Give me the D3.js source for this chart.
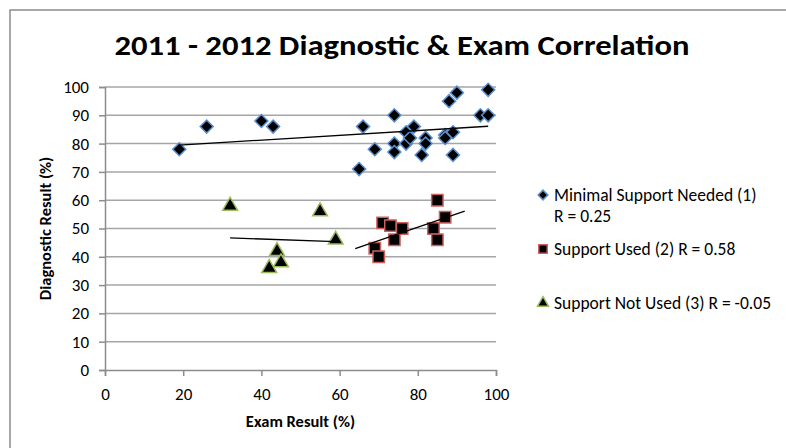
<!DOCTYPE html>
<html><head><meta charset="utf-8">
<script src="https://cdn.jsdelivr.net/npm/d3@7"></script>
<style>
html,body{margin:0;padding:0;background:#fff;}
svg text{font-family:Carlito, Lato, "Open Sans", sans-serif;}
</style></head>
<body><svg id="c" width="786" height="448"></svg>
<script>
// Data
const minimalX = [19,26,40,43,65,66,69,74,74,74,77,77,78,79,81,82,82,87,87,88,89,89,90,96,98,98];
const minimalY = [78,86,88,86,71,86,78,90,80,77,84,80,82,86,76,82,80,83,82,95,84,76,98,90,99,90];
const usedX = [85,87,71,73,76,84,74,85,69,70];
const usedY = [60,54,52,51,50,50,46,46,43,40];
const notUsedX = [32,44,45,42,55,59];
const notUsedY = [58,42,38,36,56,46];
const trendMinimal = [19,98];
const trendUsed = [64,92];
const trendNotUsed = [32,59];
const seriesNames = ["Minimal Support Needed (1)", "Support Used (2) R = 0.58", "Support Not Used (3) R = -0.05"];
const xTicks = [0,20,40,60,80,100];
const yTicks = [0,10,20,30,40,50,60,70,80,90,100];
const title = "2011 - 2012 Diagnostic & Exam Correlation";

const svg = d3.select("#c");
svg.append("rect").attr("x",10).attr("y",10).attr("width",800).attr("height",460)
  .attr("fill","none").attr("stroke","#8c8c8c").attr("stroke-width",1.5);

const x = d3.scaleLinear().domain([0,100]).range([105,496]);
const y = d3.scaleLinear().domain([0,100]).range([370,87]);

svg.append("g").selectAll("line").data(yTicks.filter(d=>d>0)).join("line")
  .attr("x1",x(0)).attr("x2",x(100)).attr("y1",d=>y(d)).attr("y2",d=>y(d))
  .attr("stroke","#a6a6a6").attr("stroke-width",1.5);

const yAxis = d3.axisLeft(y).tickValues(yTicks).tickSize(6).tickPadding(10);
const gy = svg.append("g").attr("transform",`translate(${x(0)},0)`).call(yAxis);
const xAxis = d3.axisBottom(x).tickValues(xTicks).tickSize(6).tickPadding(12);
const gx = svg.append("g").attr("transform",`translate(0,${y(0)})`).call(xAxis);
[gx,gy].forEach(g=>{
  g.selectAll(".domain").attr("stroke","#8c8c8c").attr("stroke-width",1.5);
  g.selectAll(".tick line").attr("stroke","#8c8c8c").attr("stroke-width",1.5);
  g.selectAll(".tick text").attr("fill","#000").style("font-size","17px").style("font-family","Carlito, Lato, sans-serif");
});

svg.append("text").attr("x",402).attr("y",55).attr("text-anchor","middle")
  .style("font-size","29px").style("font-weight","bold").attr("textLength",575).attr("lengthAdjust","spacingAndGlyphs")
  .text(title);

svg.append("text").attr("x",x(50)).attr("y",427).attr("text-anchor","middle")
  .style("font-size","16.5px").style("font-weight","bold").text("Exam Result (%)");
svg.append("text").attr("transform",`translate(51,${y(50)}) rotate(-90)`).attr("text-anchor","middle")
  .style("font-size","16.5px").style("font-weight","bold").text("Diagnostic Result (%)");

function reg(xs, ys){
  const mx=d3.mean(xs), my=d3.mean(ys);
  let sxy=0,sxx=0;
  xs.forEach((v,i)=>{sxy+=(v-mx)*(ys[i]-my); sxx+=(v-mx)*(v-mx);});
  const b=sxy/sxx; return v=>my+b*(v-mx);
}
const series = [
  {xs:minimalX, ys:minimalY, tr:trendMinimal, sym:d3.symbolSquare, rot:45, stroke:"#5b8fd0", size:85},
  {xs:usedX, ys:usedY, tr:trendUsed, sym:d3.symbolSquare, rot:0, stroke:"#d0605c", size:130},
  {xs:notUsedX, ys:notUsedY, tr:trendNotUsed, sym:d3.symbolTriangle, rot:0, stroke:"#9bbb59", size:95}
];
series.forEach(s=>{
  svg.append("g").selectAll("path").data(s.xs.map((v,i)=>[v,s.ys[i]])).join("path")
    .attr("d",d3.symbol().type(s.sym).size(s.size))
    .attr("transform",d=>`translate(${x(d[0])},${y(d[1])}) rotate(${s.rot})`)
    .attr("fill","#000").attr("stroke",s.stroke).attr("stroke-width",1.5);
});
series.forEach(s=>{
  const f=reg(s.xs,s.ys);
  svg.append("line").attr("x1",x(s.tr[0])).attr("x2",x(s.tr[1]))
    .attr("y1",y(f(s.tr[0]))).attr("y2",y(f(s.tr[1])))
    .attr("stroke","#000").attr("stroke-width",1.3);
});

const leg = [
  {y:195, lines:[seriesNames[0],"R = 0.25"]},
  {y:249, lines:[seriesNames[1]]},
  {y:303, lines:[seriesNames[2]]}
];
leg.forEach((l,i)=>{
  const s=series[i];
  svg.append("path").attr("d",d3.symbol().type(s.sym).size(s.size*0.55))
    .attr("transform",`translate(543,${l.y}) rotate(${s.rot})`).attr("fill","#000").attr("stroke",s.stroke).attr("stroke-width",1.5);
  l.lines.forEach((t,j)=>{
    svg.append("text").attr("x",554).attr("y",l.y+6+j*21).style("font-size","17.5px").attr("fill","#000").text(t);
  });
});
</script></body></html>
